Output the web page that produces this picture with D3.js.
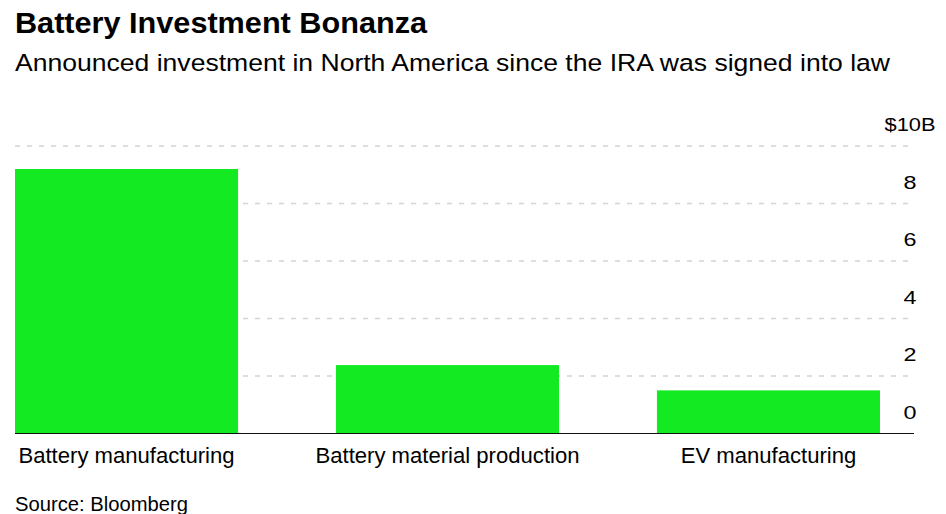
<!DOCTYPE html>
<html>
<head>
<meta charset="utf-8">
<script src="https://cdn.jsdelivr.net/npm/d3@7"></script>
<style>
  html, body { margin: 0; padding: 0; background: #fff; }
  svg { display: block; font-family: "Liberation Sans", Arial, sans-serif; }
</style>
</head>
<body>
<svg id="chart" width="946" height="514"></svg>
<script>
const categories = ["Battery manufacturing", "Battery material production", "EV manufacturing"];
const values = [9.2, 2.38, 1.5];
const tickValues = [0, 2, 4, 6, 8, 10];
const tickLabels = ["0", "2", "4", "6", "8", "$10B"];

const svg = d3.select("#chart");

const x = d3.scaleBand().domain(categories).range([15, 880]).paddingInner(0.305).paddingOuter(0);
const y = d3.scaleLinear().domain([0, 10]).range([433.5, 146]);

// titles
svg.append("text").attr("x", 15).attr("y", 33)
  .attr("font-size", 29).attr("font-weight", "bold").attr("fill", "#000")
  .attr("textLength", 412).attr("lengthAdjust", "spacingAndGlyphs")
  .text("Battery Investment Bonanza");
svg.append("text").attr("x", 15).attr("y", 71)
  .attr("font-size", 24.5).attr("fill", "#000")
  .attr("textLength", 875).attr("lengthAdjust", "spacingAndGlyphs")
  .text("Announced investment in North America since the IRA was signed into law");

// gridlines
svg.append("g").selectAll("line").data(tickValues.filter(d => d > 0)).join("line")
  .attr("x1", 15).attr("x2", 913)
  .attr("y1", d => y(d)).attr("y2", d => y(d))
  .attr("stroke", "#d4d4d4").attr("stroke-width", 1.3).attr("stroke-dasharray", "5,7");

// bars
svg.append("g").selectAll("rect").data(values).join("rect")
  .attr("x", (d, i) => x(categories[i]))
  .attr("width", x.bandwidth())
  .attr("y", d => y(d))
  .attr("height", d => y(0) - y(d))
  .attr("fill", "#13ea22");

// baseline
svg.append("line").attr("x1", 15).attr("x2", 914)
  .attr("y1", y(0)).attr("y2", y(0))
  .attr("stroke", "#111").attr("stroke-width", 1.2);

// y tick labels
svg.append("g").selectAll("text").data(tickValues).join("text")
  .attr("x", 910).attr("y", d => y(d) - 15)
  .attr("text-anchor", "middle").attr("font-size", 18.5).attr("fill", "#000")
  .attr("textLength", (d, i) => tickLabels[i].length > 1 ? 51 : 13)
  .attr("lengthAdjust", "spacingAndGlyphs")
  .text((d, i) => tickLabels[i]);

// category labels
svg.append("g").selectAll("text").data(categories).join("text")
  .attr("x", d => x(d) + x.bandwidth() / 2).attr("y", 463)
  .attr("text-anchor", "middle").attr("font-size", 22.1).attr("fill", "#000")
  .text(d => d);

// source
svg.append("text").attr("x", 15).attr("y", 511)
  .attr("font-size", 19.5).attr("fill", "#000")
  .attr("textLength", 173).attr("lengthAdjust", "spacingAndGlyphs")
  .text("Source: Bloomberg");
</script>
</body>
</html>
